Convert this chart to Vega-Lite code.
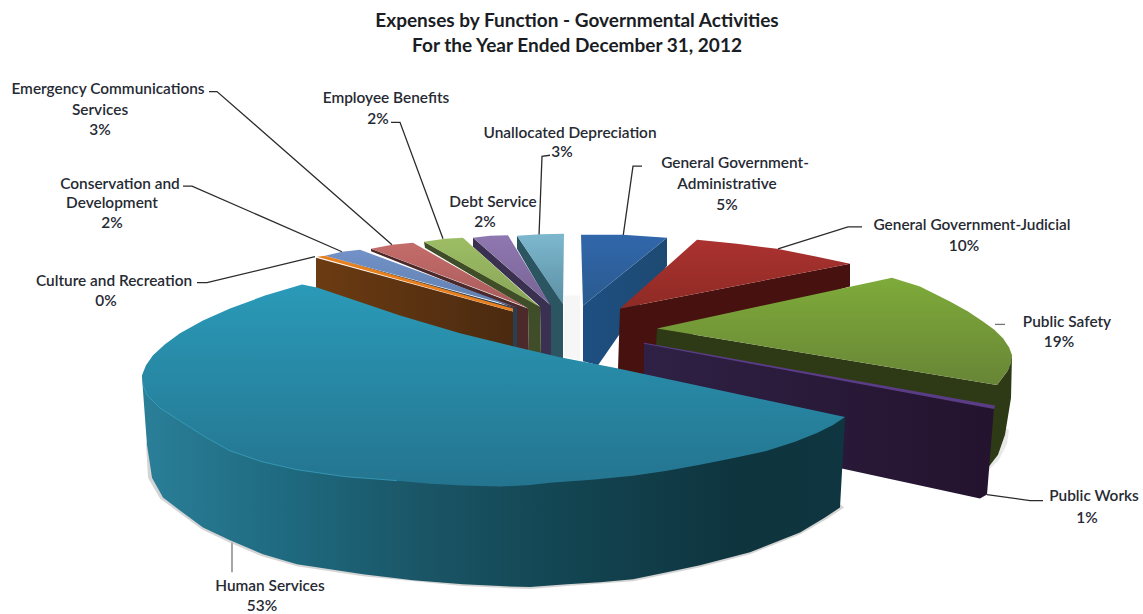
{
  "$schema": "https://vega.github.io/schema/vega-lite/v6.json",
  "autosize": {"type": "fit", "contains": "padding"},
  "width": 1143,
  "height": 614,
  "padding": 0,
  "background": "white",
  "config": {"view": {"stroke": null}},
  "datasets": {
    "teal_side": [{"seq":1,"x":517,"y":237},{"seq":2,"x":517,"y":250},{"seq":3,"x":550,"y":307},{"seq":4,"x":551,"y":362},{"seq":5,"x":563,"y":363},{"seq":6,"x":563,"y":305}],
    "teal_top": [{"seq":1,"x":517,"y":237},{"seq":2,"x":540,"y":235.5},{"seq":3,"x":564,"y":235},{"seq":4,"x":563,"y":306}],
    "lav_side": [{"seq":1,"x":473,"y":239},{"seq":2,"x":473,"y":248},{"seq":3,"x":540,"y":308},{"seq":4,"x":541,"y":360},{"seq":5,"x":551,"y":362},{"seq":6,"x":551,"y":307}],
    "lav_top": [{"seq":1,"x":473,"y":239},{"seq":2,"x":490,"y":237},{"seq":3,"x":508,"y":236.5},{"seq":4,"x":550,"y":306}],
    "lime_side": [{"seq":1,"x":424,"y":243},{"seq":2,"x":425,"y":249},{"seq":3,"x":528,"y":310},{"seq":4,"x":529,"y":358},{"seq":5,"x":541,"y":360},{"seq":6,"x":540,"y":308}],
    "lime_top": [{"seq":1,"x":424,"y":243},{"seq":2,"x":445,"y":240},{"seq":3,"x":463,"y":239},{"seq":4,"x":539,"y":308}],
    "pink_side": [{"seq":1,"x":371,"y":250},{"seq":2,"x":371,"y":252.5},{"seq":3,"x":517,"y":311},{"seq":4,"x":517,"y":355},{"seq":5,"x":529,"y":358},{"seq":6,"x":528,"y":310}],
    "pink_top": [{"seq":1,"x":371,"y":250},{"seq":2,"x":392,"y":246},{"seq":3,"x":413,"y":244},{"seq":4,"x":527,"y":309}],
    "blue_side": [{"seq":1,"x":325,"y":257},{"seq":2,"x":513,"y":312},{"seq":3,"x":513,"y":354},{"seq":4,"x":517,"y":355},{"seq":5,"x":517,"y":310}],
    "blue_top": [{"seq":1,"x":325,"y":257},{"seq":2,"x":342,"y":253},{"seq":3,"x":360,"y":251},{"seq":4,"x":517,"y":309}],
    "brown_face": [{"seq":1,"x":316,"y":259},{"seq":2,"x":513,"y":313},{"seq":3,"x":513,"y":355},{"seq":4,"x":400,"y":325},{"seq":5,"x":316,"y":294}],
    "orange_top": [{"seq":1,"x":317,"y":258},{"seq":2,"x":325,"y":257},{"seq":3,"x":513,"y":310},{"seq":4,"x":513,"y":313}],
    "gap_glow": [{"seq":1,"x":564,"y":297},{"seq":2,"x":580,"y":297},{"seq":3,"x":580,"y":362},{"seq":4,"x":564,"y":358}],
    "admin_side": [{"seq":1,"x":667,"y":239},{"seq":2,"x":667,"y":267},{"seq":3,"x":598,"y":367},{"seq":4,"x":583,"y":363},{"seq":5,"x":583,"y":307}],
    "admin_top": [{"seq":1,"x":581,"y":236},{"seq":2,"x":623,"y":236},{"seq":3,"x":667,"y":239},{"seq":4,"x":583,"y":307}],
    "judicial_side": [{"seq":1,"x":620,"y":310},{"seq":2,"x":850,"y":265},{"seq":3,"x":850,"y":288},{"seq":4,"x":700,"y":330},{"seq":5,"x":645,"y":380},{"seq":6,"x":618,"y":371}],
    "judicial_top": [{"seq":1,"x":697,"y":241},{"seq":2,"x":737,"y":245},{"seq":3,"x":777,"y":250},{"seq":4,"x":817,"y":258},{"seq":5,"x":850,"y":265},{"seq":6,"x":620,"y":310}],
    "safety_shadow": [{"seq":1,"x":1006,"y":430},{"seq":2,"x":1009,"y":432},{"seq":3,"x":1007,"y":446},{"seq":4,"x":999,"y":462},{"seq":5,"x":988,"y":473},{"seq":6,"x":985,"y":450}],
    "safety_side": [{"seq":1,"x":657,"y":330},{"seq":2,"x":997,"y":387},{"seq":3,"x":1008,"y":372},{"seq":4,"x":1012,"y":357},{"seq":5,"x":1011,"y":400},{"seq":6,"x":1005,"y":437},{"seq":7,"x":998,"y":457},{"seq":8,"x":988,"y":470},{"seq":9,"x":980,"y":470},{"seq":10,"x":656,"y":348}],
    "safety_top": [{"seq":1,"x":657,"y":330},{"seq":2,"x":892,"y":279},{"seq":3,"x":920,"y":288},{"seq":4,"x":950,"y":303},{"seq":5,"x":968,"y":313},{"seq":6,"x":983,"y":323},{"seq":7,"x":994,"y":331},{"seq":8,"x":1003,"y":340},{"seq":9,"x":1009,"y":349},{"seq":10,"x":1012,"y":357},{"seq":11,"x":1011,"y":365},{"seq":12,"x":1008,"y":372},{"seq":13,"x":997,"y":387}],
    "works_face": [{"seq":1,"x":644,"y":345},{"seq":2,"x":994,"y":410},{"seq":3,"x":987,"y":497},{"seq":4,"x":980,"y":501},{"seq":5,"x":843,"y":471},{"seq":6,"x":644,"y":429}],
    "works_top": [{"seq":1,"x":644,"y":344.5},{"seq":2,"x":995,"y":407.5},{"seq":3,"x":994,"y":411},{"seq":4,"x":644,"y":345.5}],
    "human_shadow": [{"seq":1,"x":146,"y":445},{"seq":2,"x":148,"y":480},{"seq":3,"x":160,"y":501},{"seq":4,"x":179,"y":515},{"seq":5,"x":202,"y":532},{"seq":6,"x":229,"y":545},{"seq":7,"x":262,"y":559},{"seq":8,"x":297,"y":569},{"seq":9,"x":330,"y":574},{"seq":10,"x":363,"y":579},{"seq":11,"x":463,"y":589},{"seq":12,"x":530,"y":592},{"seq":13,"x":567,"y":589},{"seq":14,"x":633,"y":584},{"seq":15,"x":700,"y":570},{"seq":16,"x":750,"y":557},{"seq":17,"x":800,"y":537},{"seq":18,"x":826,"y":522},{"seq":19,"x":844,"y":510},{"seq":20,"x":838,"y":505},{"seq":21,"x":500,"y":500}],
    "human_side": [{"seq":1,"x":142,"y":377},{"seq":2,"x":143,"y":393},{"seq":3,"x":145,"y":420},{"seq":4,"x":147,"y":447},{"seq":5,"x":152,"y":480},{"seq":6,"x":163,"y":500},{"seq":7,"x":180,"y":513},{"seq":8,"x":203,"y":530},{"seq":9,"x":230,"y":543},{"seq":10,"x":263,"y":557},{"seq":11,"x":297,"y":567},{"seq":12,"x":330,"y":572},{"seq":13,"x":363,"y":577},{"seq":14,"x":413,"y":583},{"seq":15,"x":463,"y":587},{"seq":16,"x":500,"y":589},{"seq":17,"x":530,"y":590},{"seq":18,"x":567,"y":587},{"seq":19,"x":600,"y":585},{"seq":20,"x":633,"y":582},{"seq":21,"x":667,"y":575},{"seq":22,"x":700,"y":568},{"seq":23,"x":750,"y":555},{"seq":24,"x":800,"y":535},{"seq":25,"x":825,"y":520},{"seq":26,"x":840,"y":510},{"seq":27,"x":845,"y":419},{"seq":28,"x":500,"y":420}],
    "human_top": [{"seq":1,"x":302,"y":286},{"seq":2,"x":265,"y":297},{"seq":3,"x":230,"y":310},{"seq":4,"x":203,"y":322},{"seq":5,"x":180,"y":335},{"seq":6,"x":165,"y":346},{"seq":7,"x":153,"y":357},{"seq":8,"x":146,"y":367},{"seq":9,"x":142,"y":377},{"seq":10,"x":143,"y":387},{"seq":11,"x":147,"y":397},{"seq":12,"x":160,"y":410},{"seq":13,"x":180,"y":423},{"seq":14,"x":205,"y":439},{"seq":15,"x":230,"y":453},{"seq":16,"x":262,"y":464},{"seq":17,"x":297,"y":472},{"seq":18,"x":345,"y":479},{"seq":19,"x":397,"y":483},{"seq":20,"x":430,"y":486},{"seq":21,"x":463,"y":488},{"seq":22,"x":500,"y":489},{"seq":23,"x":530,"y":487.5},{"seq":24,"x":550,"y":485},{"seq":25,"x":592,"y":482},{"seq":26,"x":633,"y":478},{"seq":27,"x":667,"y":473},{"seq":28,"x":700,"y":467},{"seq":29,"x":735,"y":460},{"seq":30,"x":767,"y":453},{"seq":31,"x":795,"y":444},{"seq":32,"x":817,"y":435},{"seq":33,"x":833,"y":427},{"seq":34,"x":845,"y":419},{"seq":35,"x":700,"y":388},{"seq":36,"x":617,"y":370},{"seq":37,"x":560,"y":359},{"seq":38,"x":513,"y":348},{"seq":39,"x":460,"y":335},{"seq":40,"x":400,"y":317},{"seq":41,"x":317,"y":289}],
    "human_rim": [{"seq":1,"x":143,"y":387},{"seq":2,"x":147,"y":397},{"seq":3,"x":160,"y":410},{"seq":4,"x":180,"y":423},{"seq":5,"x":205,"y":439},{"seq":6,"x":230,"y":453},{"seq":7,"x":262,"y":464},{"seq":8,"x":297,"y":472},{"seq":9,"x":345,"y":479},{"seq":10,"x":397,"y":483}],
    "leaders": [
      {"name":"emergency","seq":1,"x":209,"y":92},{"name":"emergency","seq":2,"x":217,"y":92},{"name":"emergency","seq":3,"x":392,"y":246},
      {"name":"conservation","seq":1,"x":183,"y":187},{"name":"conservation","seq":2,"x":192,"y":187},{"name":"conservation","seq":3,"x":342,"y":253},
      {"name":"culture","seq":1,"x":197,"y":284},{"name":"culture","seq":2,"x":207,"y":284},{"name":"culture","seq":3,"x":315,"y":258},
      {"name":"benefits","seq":1,"x":391,"y":123},{"name":"benefits","seq":2,"x":400,"y":123},{"name":"benefits","seq":3,"x":443,"y":240},
      {"name":"depreciation","seq":1,"x":550,"y":156},{"name":"depreciation","seq":2,"x":542,"y":157},{"name":"depreciation","seq":3,"x":539,"y":237},
      {"name":"admin","seq":1,"x":642,"y":167},{"name":"admin","seq":2,"x":633,"y":167},{"name":"admin","seq":3,"x":623,"y":238},
      {"name":"judicial","seq":1,"x":778,"y":250},{"name":"judicial","seq":2,"x":848,"y":228},{"name":"judicial","seq":3,"x":862,"y":228},
      {"name":"works","seq":1,"x":987,"y":497},{"name":"works","seq":2,"x":1030,"y":503},{"name":"works","seq":3,"x":1043,"y":503}
    ],
    "soft_leaders": [
      {"name":"safety","seq":1,"x":995,"y":326},{"name":"safety","seq":2,"x":1005,"y":326},
      {"name":"human","seq":1,"x":232,"y":545},{"name":"human","seq":2,"x":232,"y":575}
    ],
    "labels": [
      {"text":"Emergency Communications","x":108,"y":88},{"text":"Services","x":100,"y":109},{"text":"3%","x":100,"y":129},
      {"text":"Conservation and","x":120,"y":183},{"text":"Development","x":112,"y":202},{"text":"2%","x":112,"y":223},
      {"text":"Culture and Recreation","x":114,"y":281},{"text":"0%","x":106,"y":301},
      {"text":"Employee Benefits","x":386,"y":97},{"text":"2%","x":378,"y":118},
      {"text":"Unallocated Depreciation","x":570,"y":132},{"text":"3%","x":562,"y":151},
      {"text":"Debt Service","x":493,"y":201},{"text":"2%","x":485,"y":222},
      {"text":"General Government-","x":735,"y":162},{"text":"Administrative","x":727,"y":183},{"text":"5%","x":727,"y":204},
      {"text":"General Government-Judicial","x":972,"y":225},{"text":"10%","x":964,"y":246},
      {"text":"Public Safety","x":1067,"y":322},{"text":"19%","x":1059,"y":342},
      {"text":"Public Works","x":1094,"y":497},{"text":"1%","x":1087,"y":519},
      {"text":"Human Services","x":270,"y":587},{"text":"53%","x":262,"y":607}
    ],
    "heading": [
      {"text":"Expenses by Function - Governmental Activities","x":577,"y":20},
      {"text":"For the Year Ended December 31, 2012","x":577,"y":45}
    ]
  },
  "encoding": {
    "x": {"field": "x", "type": "quantitative", "scale": {"domain": [0, 1143]}, "axis": null},
    "y": {"field": "y", "type": "quantitative", "scale": {"domain": [614, 0]}, "axis": null},
    "order": {"field": "seq"}
  },
  "layer": [
    {"data":{"name":"leaders"},"mark":{"type":"line","stroke":"#2b2b2b","strokeWidth":1.3},"encoding":{"detail":{"field":"name"}}},
    {"data":{"name":"soft_leaders"},"mark":{"type":"line","stroke":"#777777","strokeWidth":1.3},"encoding":{"detail":{"field":"name"}}},
    {"data":{"name":"gap_glow"},"mark":{"type":"line","fill":"#f6f6f6","stroke":null}},
    {"data":{"name":"teal_side"},"mark":{"type":"line","fill":"#2b5560","stroke":null}},
    {"data":{"name":"teal_top"},"mark":{"type":"line","stroke":null,"fill":{"gradient":"linear","x1":0,"y1":0,"x2":0,"y2":1,"stops":[{"offset":0,"color":"#7db8cf"},{"offset":1,"color":"#5c8fa3"}]}}},
    {"data":{"name":"lav_side"},"mark":{"type":"line","fill":"#3a3050","stroke":null}},
    {"data":{"name":"lav_top"},"mark":{"type":"line","stroke":null,"fill":{"gradient":"linear","x1":0,"y1":0,"x2":0,"y2":1,"stops":[{"offset":0,"color":"#8f78b0"},{"offset":1,"color":"#776395"}]}}},
    {"data":{"name":"lime_side"},"mark":{"type":"line","fill":"#3f4d28","stroke":null}},
    {"data":{"name":"lime_top"},"mark":{"type":"line","stroke":null,"fill":{"gradient":"linear","x1":0,"y1":0,"x2":0,"y2":1,"stops":[{"offset":0,"color":"#9dbd64"},{"offset":1,"color":"#88a458"}]}}},
    {"data":{"name":"pink_side"},"mark":{"type":"line","fill":"#4c2a2c","stroke":null}},
    {"data":{"name":"pink_top"},"mark":{"type":"line","stroke":null,"fill":{"gradient":"linear","x1":0,"y1":0,"x2":0,"y2":1,"stops":[{"offset":0,"color":"#c46c6a"},{"offset":1,"color":"#a85c5c"}]}}},
    {"data":{"name":"blue_side"},"mark":{"type":"line","fill":"#2b3e50","stroke":null}},
    {"data":{"name":"blue_top"},"mark":{"type":"line","stroke":null,"fill":{"gradient":"linear","x1":0,"y1":0,"x2":0,"y2":1,"stops":[{"offset":0,"color":"#7292c8"},{"offset":1,"color":"#5f7fb0"}]}}},
    {"data":{"name":"brown_face"},"mark":{"type":"line","stroke":null,"fill":{"gradient":"linear","x1":0,"y1":0,"x2":1,"y2":0,"stops":[{"offset":0,"color":"#6c3b12"},{"offset":1,"color":"#4a2a10"}]}}},
    {"data":{"name":"orange_top"},"mark":{"type":"line","fill":"#e8801f","stroke":null}},
    {"data":{"name":"admin_side"},"mark":{"type":"line","stroke":null,"fill":{"gradient":"linear","x1":0,"y1":0,"x2":1,"y2":0,"stops":[{"offset":0,"color":"#1e4f82"},{"offset":1,"color":"#1d4a72"}]}}},
    {"data":{"name":"admin_top"},"mark":{"type":"line","stroke":null,"fill":{"gradient":"linear","x1":0,"y1":0,"x2":0,"y2":1,"stops":[{"offset":0,"color":"#3167ab"},{"offset":1,"color":"#2a5a8e"}]}}},
    {"data":{"name":"judicial_side"},"mark":{"type":"line","fill":"#47110f","stroke":null}},
    {"data":{"name":"judicial_top"},"mark":{"type":"line","stroke":null,"fill":{"gradient":"linear","x1":0,"y1":0,"x2":0,"y2":1,"stops":[{"offset":0,"color":"#ab3230"},{"offset":1,"color":"#8e2a24"}]}}},
    {"data":{"name":"safety_shadow"},"mark":{"type":"line","fill":"#d8d8d8","stroke":null,"opacity":0.6}},
    {"data":{"name":"safety_side"},"mark":{"type":"line","fill":"#2e3a16","stroke":null}},
    {"data":{"name":"safety_top"},"mark":{"type":"line","stroke":null,"fill":{"gradient":"linear","x1":0,"y1":0,"x2":0,"y2":1,"stops":[{"offset":0,"color":"#7eab3a"},{"offset":1,"color":"#688536"}]}}},
    {"data":{"name":"works_face"},"mark":{"type":"line","stroke":null,"fill":{"gradient":"linear","x1":0,"y1":0,"x2":1,"y2":0,"stops":[{"offset":0,"color":"#2f2145"},{"offset":1,"color":"#24132e"}]}}},
    {"data":{"name":"works_top"},"mark":{"type":"line","fill":"#5a3d86","stroke":null}},
    {"data":{"name":"human_shadow"},"mark":{"type":"line","fill":"#b8b8b8","stroke":null,"opacity":0.6}},
    {"data":{"name":"human_side"},"mark":{"type":"line","stroke":null,"fill":{"gradient":"linear","x1":0,"y1":0,"x2":1,"y2":0,"stops":[{"offset":0,"color":"#2a7f98"},{"offset":0.2,"color":"#1f6a80"},{"offset":0.4,"color":"#1a5566"},{"offset":0.6,"color":"#134552"},{"offset":0.85,"color":"#0e343e"},{"offset":1,"color":"#0f3640"}]}}},
    {"data":{"name":"human_top"},"mark":{"type":"line","stroke":null,"fill":{"gradient":"linear","x1":0,"y1":0,"x2":0,"y2":1,"stops":[{"offset":0,"color":"#2a9ab8"},{"offset":1,"color":"#24748f"}]}}},
    {"data":{"name":"human_rim"},"mark":{"type":"line","stroke":"#3aa5c2","strokeWidth":1,"opacity":0.7}},
    {"data":{"name":"labels"},"mark":{"type":"text","font":"Lato","fontSize":15.4,"fontWeight":600,"color":"#262a33","align":"center","baseline":"middle","dy":1.5},"encoding":{"text":{"field":"text"},"order":null}},
    {"data":{"name":"heading"},"mark":{"type":"text","font":"Lato","fontSize":19,"fontWeight":"bold","color":"#1a1d24","align":"center","baseline":"middle","dy":1},"encoding":{"text":{"field":"text"},"order":null}}
  ]
}
